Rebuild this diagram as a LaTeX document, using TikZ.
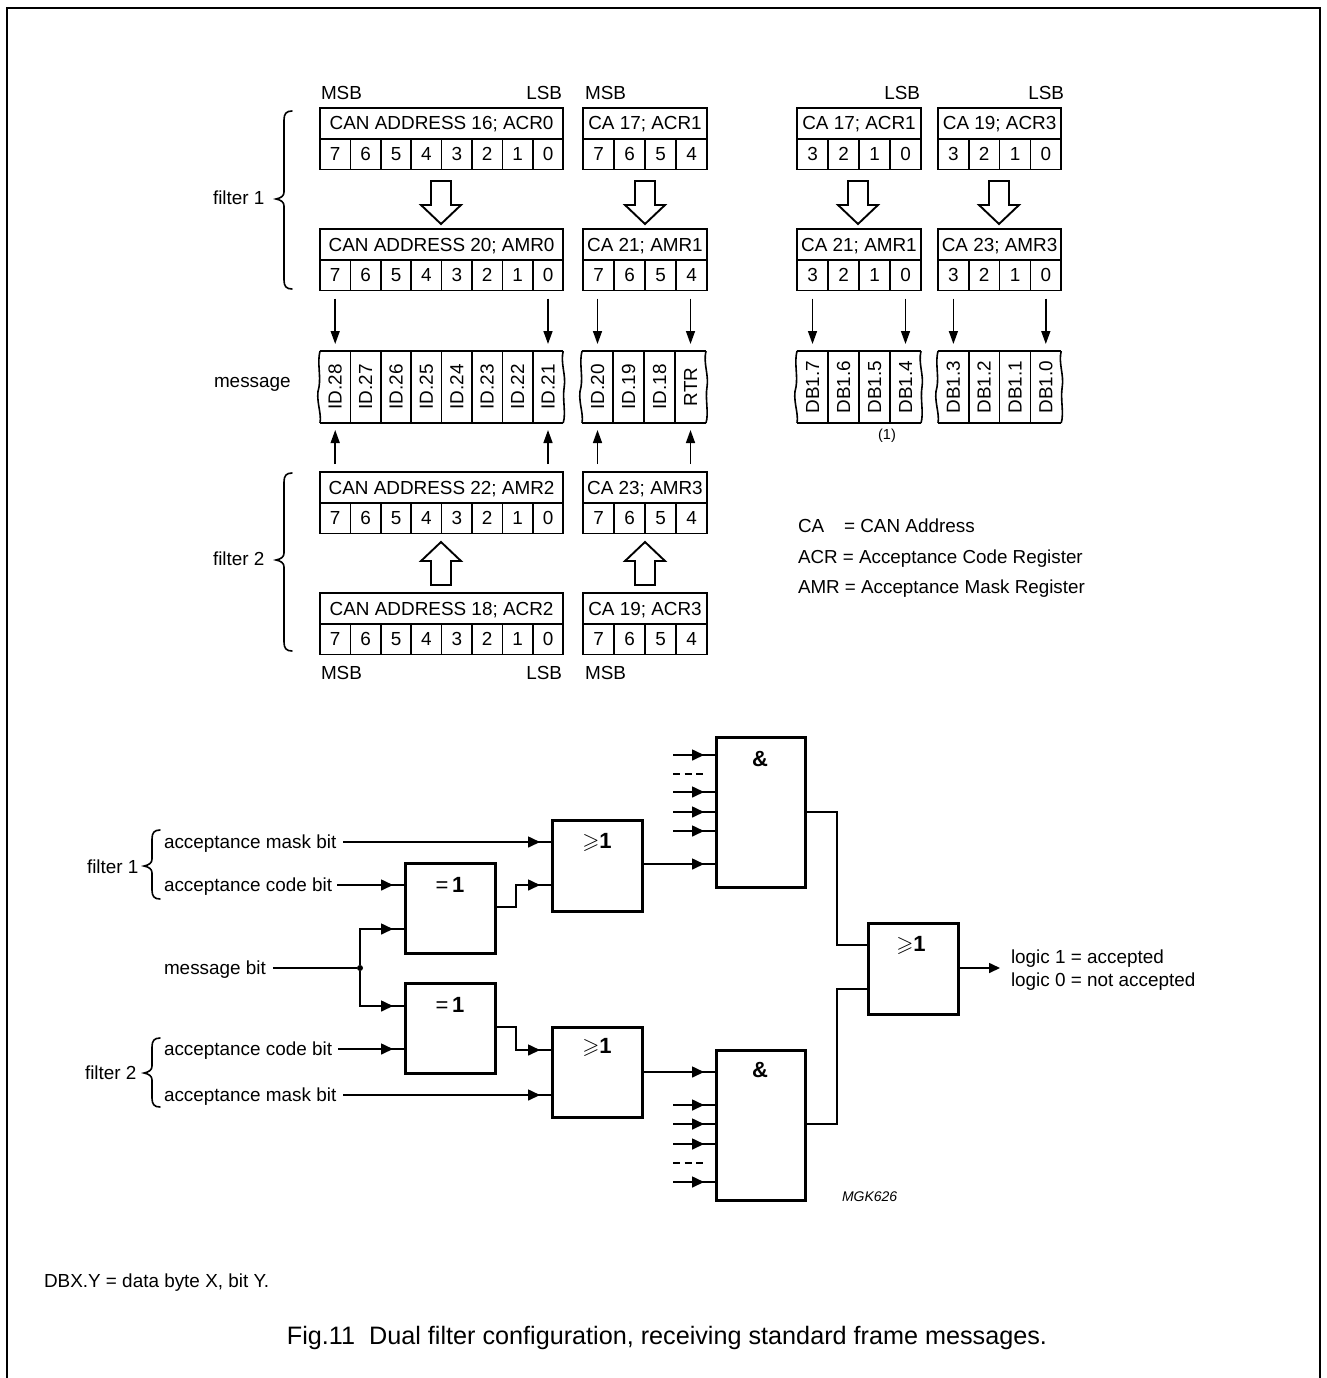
\documentclass[tikz,border=0pt]{standalone}
\usepackage{amssymb}
\usepackage{fontspec}
\setmainfont{Liberation Sans}
\usetikzlibrary{arrows.meta,decorations.markings}
\tikzset{
  txt/.style={inner sep=0pt,outer sep=0pt,text height=15.2pt,text depth=2.2pt,font=\fontsize{18.9}{21}\selectfont},
  lab/.style={txt,anchor=west},
  labr/.style={txt,anchor=east},
  regcell/.style={draw,line width=1.7pt,inner sep=0pt,outer sep=0pt,minimum height=31pt,txt},
  msgcell/.style={inner sep=0pt,outer sep=0pt,minimum height=72pt,minimum width=30pt},
  msgtxt/.style={rotate=90,txt},
  logicbox/.style={draw,line width=3pt,inner sep=0pt,outer sep=0pt,anchor=north west},
  gate/.style={inner sep=0pt,outer sep=0pt,font=\fontsize{22}{24}\selectfont\bfseries},
  thin line/.style={line width=1.6pt},
  wire/.style={line width=1.6pt},
  sigarrow/.style={line width=1.5pt,-{Triangle[length=13pt,width=9pt]},shorten <=8pt,shorten >=7pt},
  midarr/.style={wire,postaction={decorate},decoration={markings,mark=at position -12pt with {\arrow{Triangle[length=12pt,width=11pt]}}}},
  brc/.style={line width=1.6pt,line cap=round},
  hollow/.style={line width=1.9pt,line join=miter,fill=white}
}
\newcommand{\regbox}[6]{% name, x, y, cell width, header, digits
  \foreach \dg [count=\ci] in {#6} {
    \node[regcell,minimum width=#4pt] (#1c\ci) at ({#2+(\ci-0.5)*#4},{#3+46}) {\dg};
    \xdef\lastci{\ci}
  }
  \node[regcell,minimum width={\lastci*#4*1pt},anchor=north west] (#1h) at (#2,#3) {#5};
}
\newcommand{\msgbox}[5]{% name, x, cell width, labels, last index
  \foreach \tx [count=\ci] in {#4} {
    \node[msgcell,minimum width=#3pt] (#1c\ci) at ({#2+(\ci-0.5)*#3},387) {};
    \node[msgtxt] at (#1c\ci.center) {\tx};
  }
  \draw[thin line] (#1c1.north west) -- (#1c#5.north east);
  \draw[thin line] (#1c1.south west) -- (#1c#5.south east);
  \foreach \ci in {1,...,#5} {\ifnum\ci<#5\relax\draw[thin line] (#1c\ci.north east) -- (#1c\ci.south east);\fi}
  \draw[thin line] (#1c1.north west) .. controls +(-3,12) and +(2,-12) .. +(-1,36) .. controls +(-4,12) and +(2,-10) .. (#1c1.south west);
  \draw[thin line] (#1c#5.north east) .. controls +(-3,12) and +(2,-12) .. +(1,36) .. controls +(-2,12) and +(3,-10) .. (#1c#5.south east);
}
\newcommand{\hollowdown}[2]{\draw[hollow] (#1-10,#2) -- (#1+10,#2) -- (#1+10,#2+24) -- (#1+20,#2+24) -- (#1,#2+43) -- (#1-20,#2+24) -- (#1-10,#2+24) -- cycle;}
\newcommand{\hollowup}[2]{\draw[hollow] (#1-10,#2) -- (#1+10,#2) -- (#1+10,#2-24) -- (#1+20,#2-24) -- (#1,#2-43) -- (#1-20,#2-24) -- (#1-10,#2-24) -- cycle;}
\newcommand{\bracel}[4]{% x of spine, top, mid, bottom
  \draw[brc] (#1+8,#2) .. controls (#1+2,#2) and (#1,#2+3) .. (#1,#2+9) -- (#1,#3-7) .. controls (#1,#3-3) and (#1-3,#3-1) .. (#1-8,#3)
     .. controls (#1-3,#3+1) and (#1,#3+3) .. (#1,#3+7) -- (#1,#4-9) .. controls (#1,#4-3) and (#1+2,#4) .. (#1+8,#4);
}
\begin{document}
\begin{tikzpicture}[x=1pt,y=-1pt]
\useasboundingbox (0,0) rectangle (1327,1378);
\draw[line width=2pt] (7,1378) -- (7,8) -- (1320,8) -- (1320,1378);

% registers
\regbox{ra}{320}{108}{30.4}{CAN ADDRESS 16; ACR0}{7,6,5,4,3,2,1,0}
\regbox{rb}{583}{108}{31}{CA 17; ACR1}{7,6,5,4}
\regbox{rc}{797}{108}{31}{CA 17; ACR1}{3,2,1,0}
\regbox{rd}{938}{108}{30.8}{CA 19; ACR3}{3,2,1,0}
\regbox{sa}{320}{229}{30.4}{CAN ADDRESS 20; AMR0}{7,6,5,4,3,2,1,0}
\regbox{sb}{583}{229}{31}{CA 21; AMR1}{7,6,5,4}
\regbox{sc}{797}{229}{31}{CA 21; AMR1}{3,2,1,0}
\regbox{sd}{938}{229}{30.8}{CA 23; AMR3}{3,2,1,0}
\regbox{ta}{320}{472}{30.4}{CAN ADDRESS 22; AMR2}{7,6,5,4,3,2,1,0}
\regbox{tb}{583}{472}{31}{CA 23; AMR3}{7,6,5,4}
\regbox{ua}{320}{593}{30.4}{CAN ADDRESS 18; ACR2}{7,6,5,4,3,2,1,0}
\regbox{ub}{583}{593}{31}{CA 19; ACR3}{7,6,5,4}

% messages
\msgbox{ma}{320}{30.4}{ID.28,ID.27,ID.26,ID.25,ID.24,ID.23,ID.22,ID.21}{8}
\msgbox{mb}{582}{31}{ID.20,ID.19,ID.18,RTR}{4}
\msgbox{mc}{797}{31}{DB1.7,DB1.6,DB1.5,DB1.4}{4}
\msgbox{md}{938}{30.8}{DB1.3,DB1.2,DB1.1,DB1.0}{4}

% hollow arrows
\hollowdown{441}{181}\hollowdown{645}{181}\hollowdown{858}{181}\hollowdown{999}{181}
\hollowup{441}{585}\hollowup{645}{585}

% thin arrows
\foreach \r/\m in {sac1/mac1,sac8/mac8,sbc1/mbc1,sbc4/mbc4,scc1/mcc1,scc4/mcc4,sdc1/mdc1,sdc4/mdc4}
  \draw[sigarrow] (\m.north |- \r.south) -- (\m.north);
\foreach \r/\h/\m in {tac1/tah/mac1,tac8/tah/mac8,tbc1/tbh/mbc1,tbc4/tbh/mbc4}
  \draw[sigarrow] (\m.south |- \h.north) -- (\m.south);

% register labels
\node[lab] (msb1) at (321,93) {MSB};
\node[labr] (lsb1) at (562,93) {LSB};
\node[lab] (msb2) at (585,93) {MSB};
\node[labr] (lsb3) at (920,93) {LSB};
\node[labr] (lsb4) at (1064,93) {LSB};
\node[lab] (msb3) at (321,673) {MSB};
\node[labr] (lsb5) at (562,673) {LSB};
\node[lab] (msb4) at (585,673) {MSB};
\node[lab] (flt1) at (213,198) {filter 1};
\node[lab] (msgl) at (214,381) {message};
\node[lab] (flt2) at (213,559) {filter 2};
\bracel{284}{111}{199}{289}
\bracel{284}{473}{560}{651}
\node[txt,font=\fontsize{14.5}{16}\selectfont] (note1) at (887,433) {(1)};

% legend
\node[lab] (lg1a) at (798,526) {CA};
\node[lab] (lg1b) at (844,526) {= CAN Address};
\node[lab,font=\fontsize{18.8}{21}\selectfont] (lg2) at (798,557) {ACR = Acceptance Code Register};
\node[lab,font=\fontsize{18.8}{21}\selectfont] (lg3) at (798,587) {AMR = Acceptance Mask Register};

% logic
\node[logicbox,minimum width=90pt,minimum height=90pt] (eqT) at (405,863) {};
\node[logicbox,minimum width=90pt,minimum height=90pt] (eqB) at (405,983) {};
\node[logicbox,minimum width=90pt,minimum height=91pt] (orT) at (552,820) {};
\node[logicbox,minimum width=90pt,minimum height=90pt] (orB) at (552,1027) {};
\node[logicbox,minimum width=89pt,minimum height=150pt] (andT) at (716,737) {};
\node[logicbox,minimum width=89pt,minimum height=150pt] (andB) at (716,1050) {};
\node[logicbox,minimum width=90pt,minimum height=91pt] (orF) at (868,923) {};

\node[gate] (eqTl) at (450,885) {{\mdseries=}\,1};
\node[gate] (eqBl) at (450,1005) {{\mdseries=}\,1};
\node[gate] (orTl) at (597,842) {$\geqslant$1};
\node[gate] (orBl) at (597,1047) {$\geqslant$1};
\node[gate] (orFl) at (911,945) {$\geqslant$1};
\node[gate] (andTl) at (760,759) {\&};
\node[gate] (andBl) at (760,1070) {\&};

\node[lab] (maskA) at (164,842) {acceptance mask bit};
\node[lab] (codeA) at (164,885) {acceptance code bit};
\node[lab] (msgb) at (164,968) {message bit};
\node[lab] (codeB) at (164,1049) {acceptance code bit};
\node[lab] (maskB) at (164,1095) {acceptance mask bit};
\node[lab] (fl1) at (87,867) {filter 1};
\node[lab] (fl2) at (85,1073) {filter 2};
\bracel{152}{830}{866}{899}
\bracel{152}{1038}{1073}{1107}

\node[circle,fill,inner sep=0pt,minimum size=6pt] (junc) at (360,968) {};
\draw[midarr] ([xshift=7pt]maskA.east) -- (orT.west |- maskA.east);
\draw[midarr] ([xshift=5pt]codeA.east) -- (eqT.west |- codeA.east);
\draw[midarr] ([xshift=6pt]codeB.east) -- (eqB.west |- codeB.east);
\draw[midarr] ([xshift=7pt]maskB.east) -- (orB.west |- maskB.east);
\draw[wire] ([xshift=7pt]msgb.east) -- (junc);
\draw[midarr] (junc) |- (eqT.west |- 0,929);
\draw[midarr] (junc) |- (eqB.west |- 0,1006);
\draw[midarr] (eqT.east |- 0,907) -- (516,907) -- (516,885) -- (orT.west |- 0,885);
\draw[midarr] (eqB.east |- 0,1027) -- (516,1027) -- (516,1050) -- (orB.west |- 0,1050);
\draw[midarr] (orT.east |- 0,864) -- (andT.west |- 0,864);
\draw[midarr] (orB.east |- 0,1072) -- (andB.west |- 0,1072);

\foreach \yy in {755,792,812,831} {
  \coordinate (inT\yy) at (673,\yy);
  \draw[midarr] (inT\yy) -- (andT.west |- inT\yy);
}
\foreach \yy in {1105,1124,1144,1182} {
  \coordinate (inB\yy) at (673,\yy);
  \draw[midarr] (inB\yy) -- (andB.west |- inB\yy);
}
\coordinate (dT1) at (673,774); \coordinate (dT2) at (703,774);
\coordinate (dB1) at (673,1163); \coordinate (dB2) at (703,1163);
\draw[wire,dash pattern=on 7pt off 4.5pt] (dT1) -- (dT2);
\draw[wire,dash pattern=on 7pt off 4.5pt] (dB1) -- (dB2);

\draw[wire] (andT.east |- 0,812) -- (837,812) -- (837,945) -- (orF.west |- 0,945);
\draw[wire] (andB.east |- 0,1124) -- (837,1124) -- (837,989) -- (orF.west |- 0,989);
\coordinate (outF) at (1000,968);
\draw[wire,-{Triangle[length=11pt,width=10pt]}] (orF.east |- outF) -- (outF);

\node[lab] (acc1) at (1011,957) {logic 1 = accepted};
\node[lab] (acc0) at (1011,980) {logic 0 = not accepted};
\node[lab,font=\fontsize{14}{15}\selectfont\itshape] (mgk) at (842,1195) {MGK626};
\node[lab] (dbx) at (44,1281) {DBX.Y = data byte X, bit Y.};
\node[txt,font=\fontsize{25.2}{27}\selectfont] (cap) at (667,1338) {Fig.11\ \ Dual filter configuration, receiving standard frame messages.};
\end{tikzpicture}
\end{document}
